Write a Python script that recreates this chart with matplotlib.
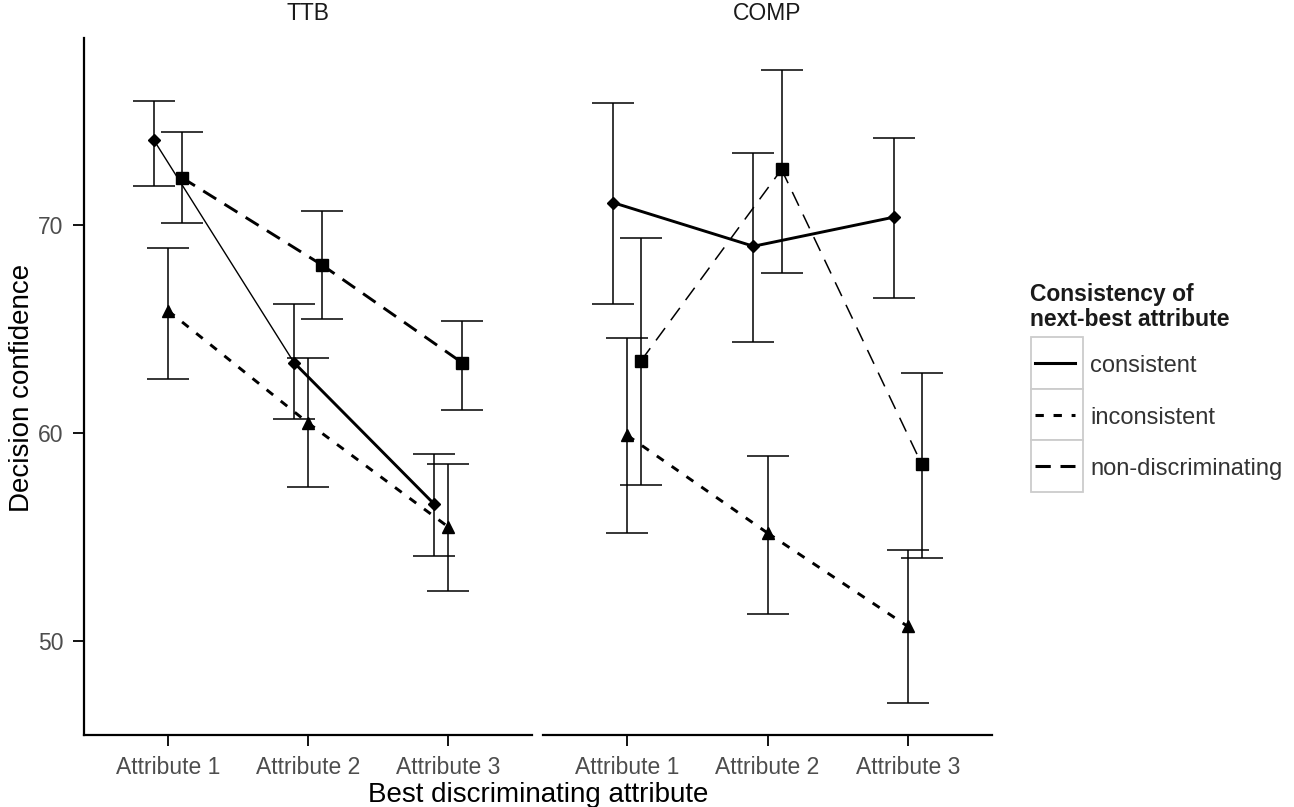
import numpy as np
import matplotlib.pyplot as plt
from matplotlib.patches import Rectangle

plt.rcParams["font.family"] = ["Liberation Sans", "DejaVu Sans"]
plt.rcParams["lines.scale_dashes"] = False

attributes = ["Attribute 1", "Attribute 2", "Attribute 3"]
strategies = ["TTB", "COMP"]
groups = ["consistent", "inconsistent", "non-discriminating"]

# means and error bar limits
ttb_mean = {
    "consistent": [74.1, 63.4, 56.6],
    "inconsistent": [65.9, 60.5, 55.5],
    "non-discriminating": [72.3, 68.1, 63.4],
}
ttb_low = {
    "consistent": [71.9, 60.7, 54.1],
    "inconsistent": [62.6, 57.4, 52.4],
    "non-discriminating": [70.1, 65.5, 61.1],
}
ttb_high = {
    "consistent": [76.0, 66.2, 59.0],
    "inconsistent": [68.9, 63.6, 58.5],
    "non-discriminating": [74.5, 70.7, 65.4],
}
comp_mean = {
    "consistent": [71.1, 69.0, 70.4],
    "inconsistent": [59.9, 55.2, 50.7],
    "non-discriminating": [63.5, 72.7, 58.5],
}
comp_low = {
    "consistent": [66.2, 64.4, 66.5],
    "inconsistent": [55.2, 51.3, 47.0],
    "non-discriminating": [57.5, 67.7, 54.0],
}
comp_high = {
    "consistent": [75.9, 73.5, 74.2],
    "inconsistent": [64.6, 58.9, 54.4],
    "non-discriminating": [69.4, 77.5, 62.9],
}

panels = {
    "TTB": (ttb_mean, ttb_low, ttb_high),
    "COMP": (comp_mean, comp_low, comp_high),
}

# styling
dodge = {"consistent": -0.1, "inconsistent": 0.0, "non-discriminating": 0.1}
markers = {"consistent": ("D", 6.5), "inconsistent": ("^", 9), "non-discriminating": ("s", 8.5)}
dashes = {"consistent": "-", "inconsistent": (0, (6, 7)), "non-discriminating": (0, (11, 7))}
seg_width = {
    ("TTB", "consistent"): [1.0, 2.1],
    ("TTB", "inconsistent"): [2.1, 2.1],
    ("TTB", "non-discriminating"): [2.1, 2.1],
    ("COMP", "consistent"): [2.1, 2.1],
    ("COMP", "inconsistent"): [2.1, 2.1],
    ("COMP", "non-discriminating"): [1.1, 1.1],
}

W, H = 1294, 807
fig = plt.figure(figsize=(W / 100, H / 100), dpi=100)

all_low = min(min(v) for p in panels.values() for v in p[1].values())
all_high = max(max(v) for p in panels.values() for v in p[2].values())
pad = (all_high - all_low) * 0.05
ylim = (all_low - pad, all_high + pad)

panel_px = {"TTB": (84, 532), "COMP": (543, 992)}
top_px, bottom_px = 38, 735
tick_col = "#4D4D4D"

x = np.arange(1, len(attributes) + 1)
axes = {}
for name in strategies:
    l, r = panel_px[name]
    ax = fig.add_axes([l / W, 1 - bottom_px / H, (r - l) / W, (bottom_px - top_px) / H])
    axes[name] = ax
    mean, low, high = panels[name]
    for g in groups:
        xs = x + dodge[g]
        m = np.array(mean[g])
        lo = np.array(low[g])
        hi = np.array(high[g])
        ax.errorbar(xs, m, yerr=[m - lo, hi - m], fmt="none", ecolor="black",
                    elinewidth=1.1, capsize=15, capthick=1.1, zorder=2)
        for i in range(len(xs) - 1):
            ax.plot(xs[i:i + 2], m[i:i + 2], color="black", linestyle=dashes[g],
                    linewidth=seg_width[(name, g)][i], zorder=3)
        mk, ms = markers[g]
        ax.plot(xs, m, linestyle="none", marker=mk, markersize=ms, color="black", zorder=4)

    ax.set_xlim(0.4, len(attributes) + 0.6)
    ax.set_ylim(*ylim)
    ax.set_xticks(x)
    ax.set_xticklabels(attributes, fontsize=16.5, color=tick_col)
    ax.set_yticks([50, 60, 70])
    ax.tick_params(axis="both", length=8, width=1.3, color="black")
    ax.tick_params(axis="x", pad=7)
    ax.tick_params(axis="y", pad=7, labelsize=16.5, labelcolor=tick_col)
    for s in ["top", "right"]:
        ax.spines[s].set_visible(False)
    ax.spines["bottom"].set_linewidth(1.6)
    ax.spines["left"].set_linewidth(1.6)
    fig.text((l + r) / 2 / W, 1 - 13 / H, name, ha="center", va="center",
             fontsize=16.5, color="#1A1A1A")

axes["COMP"].spines["left"].set_visible(False)
axes["COMP"].tick_params(axis="y", left=False, labelleft=False)

fig.text(538 / W, 1 - 802 / H, "Best discriminating attribute", ha="center",
         va="baseline", fontsize=20)
fig.text(22 / W, 1 - 388 / H, "Decision confidence", ha="center", va="center",
         rotation=90, fontsize=20)

# legend drawn by hand to get the boxed keys
lax = fig.add_axes([0, 0, 1, 1])
lax.set_xlim(0, W)
lax.set_ylim(H, 0)
lax.axis("off")
lax.text(1030, 295, "Consistency of", fontsize=16.5, fontweight="bold",
         va="center", ha="left", color="#1A1A1A")
lax.text(1030, 320, "next-best attribute", fontsize=16.5, fontweight="bold",
         va="center", ha="left", color="#1A1A1A")
key_top, key_h, key_l, key_w = 337, 51.7, 1031, 52
for i, g in enumerate(groups):
    y0 = key_top + i * key_h
    lax.add_patch(Rectangle((key_l, y0), key_w, key_h, facecolor="white",
                            edgecolor="#CCCCCC", linewidth=1.3))
    lax.plot([key_l + 4, key_l + key_w - 8], [y0 + key_h / 2] * 2, color="black",
             linestyle=dashes[g], linewidth=2.2)
    lax.text(key_l + key_w + 7, y0 + key_h / 2 + 3, g, fontsize=17,
             va="center", ha="left", color="#333333")

fig.savefig("out.png", dpi=100)
